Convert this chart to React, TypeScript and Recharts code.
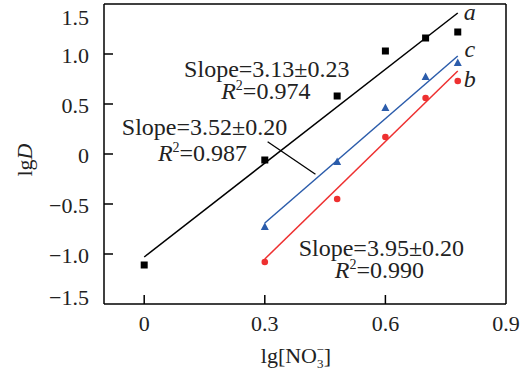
import { ComposedChart, Line, Scatter, XAxis, YAxis, ReferenceLine, ReferenceDot } from 'recharts'

const xTicks = [0, 0.3, 0.6, 0.9]
const yTicks = [-1.5, -1.0, -0.5, 0, 0.5, 1.0, 1.5]

// measured points
const lgNO3 = [0, 0.3, 0.48, 0.6, 0.7, 0.78]
const seriesA = [-1.11, -0.06, 0.58, 1.03, 1.16, 1.22]
const lgNO3bc = [0.3, 0.48, 0.6, 0.7, 0.78]
const seriesB = [-1.08, -0.45, 0.17, 0.56, 0.73]
const seriesC = [-0.73, -0.08, 0.46, 0.77, 0.91]

// fitted line ends
const fitA = [{ x: 0, y: -1.03 }, { x: 0.78, y: 1.41 }]
const fitB = [{ x: 0.3, y: -1.05 }, { x: 0.78, y: 0.83 }]
const fitC = [{ x: 0.3, y: -0.69 }, { x: 0.78, y: 0.98 }]

// annotations: [x, y, slope text, x, y, r2 text]
const slopeNotes: [number, number, string, number, number, string][] = [
  [0.305, 0.773, 'Slope=3.13\u00b10.23', 0.3025, 0.55, '=0.974'],
  [0.15, 0.19, 'Slope=3.52\u00b10.20', 0.145, -0.067, '=0.987'],
  [0.59, -1.02, 'Slope=3.95\u00b10.20', 0.585, -1.24, '=0.990'],
]
const curveNames: [number, number, string][] = [
  [0.81, 1.34, 'a'],
  [0.81, 0.67, 'b'],
  [0.81, 0.97, 'c'],
]
const leader = [{ x: 0.307, y: 0.123 }, { x: 0.426, y: -0.203 }]

const BLACK = '#000000'
const BLUE = '#2b5cab'
const RED = '#ee3030'
const FONT = '"Liberation Serif", "Times New Roman", serif'
const FS = 22
const NOTE_FS = 24

const ptsA = lgNO3.map((x, i) => ({ x, y: seriesA[i] }))
const ptsB = lgNO3bc.map((x, i) => ({ x, y: seriesB[i] }))
const ptsC = lgNO3bc.map((x, i) => ({ x, y: seriesC[i] }))

const fmt = (v: number) => {
  if (v === 0) return '0'
  const s = Math.abs(v).toFixed(1)
  return v < 0 ? '\u2212' + s : s
}

function YTick(props: any) {
  const { x, y, payload } = props
  const v = payload.value
  const inner = v !== 1.5 && v !== -1.5
  // end labels are pulled inside the frame
  const dy = v === 1.5 ? 16 : v === -1.5 ? 1 : 9
  return (
    <g>
      <text x={x} y={y + dy} textAnchor="end" fontFamily={FONT} fontSize={FS} fill="#222">{fmt(v)}</text>
      {inner && <line x1={x + 15} x2={x + 24} y1={y} y2={y} stroke={BLACK} strokeWidth={1.5} />}
    </g>
  )
}

function XTick(props: any) {
  const { x, y, payload } = props
  const v = payload.value
  const inner = v !== 0.9
  return (
    <g>
      <text x={x} y={y + 17} textAnchor="middle" fontFamily={FONT} fontSize={FS} fill="#222">{v === 0 ? '0' : String(v)}</text>
      {inner && <line x1={x} x2={x} y1={y - 10} y2={y - 19} stroke={BLACK} strokeWidth={1.5} />}
    </g>
  )
}

const square = (p: any) => <rect x={p.cx - 3.5} y={p.cy - 3.5} width={7} height={7} fill={BLACK} />
const circle = (p: any) => <circle cx={p.cx} cy={p.cy} r={3.3} fill={RED} />
const triangle = (p: any) => (
  <polygon points={`${p.cx},${p.cy - 4.5} ${p.cx - 4},${p.cy + 3} ${p.cx + 4},${p.cy + 3}`} fill={BLUE} />
)

export default function App() {
  return (
    <div style={{ position: 'absolute', left: 0, top: 0, background: '#fff' }}>
      <ComposedChart width={529} height={370} margin={{ top: 4, right: 23, left: 0, bottom: 0 }}>
        <XAxis
          type="number"
          dataKey="x"
          domain={[-0.1, 0.9]}
          ticks={xTicks}
          height={66}
          tickSize={0}
          tickMargin={10}
          tick={<XTick />}
          axisLine={{ stroke: BLACK, strokeWidth: 1.5 }}
          label={{
            content: (p: any) => {
              const vb = p.viewBox
              return (
                <text x={vb.x + vb.width / 2 - 9} y={363} textAnchor="middle" fontFamily={FONT} fontSize={FS} fill="#222">
                  lg[NO<tspan dy={5} fontSize={13}>3</tspan><tspan dx={-7} dy={-14} fontSize={13}>{'\u2212'}</tspan><tspan dy={9}>]</tspan>
                </text>
              )
            },
          }}
        />
        <YAxis
          type="number"
          dataKey="y"
          domain={[-1.5, 1.5]}
          ticks={yTicks}
          width={104}
          tickSize={0}
          tickMargin={15}
          tick={<YTick />}
          axisLine={{ stroke: BLACK, strokeWidth: 1.5 }}
          label={{
            content: () => (
              <text x={0} y={0} transform="translate(32,160) rotate(-90)" textAnchor="middle" fontFamily={FONT} fontSize={FS} fill="#222">
                lg<tspan fontStyle="italic">D</tspan>
              </text>
            ),
          }}
        />
        <ReferenceLine y={1.5} stroke={BLACK} strokeWidth={1.5} />
        <ReferenceLine x={0.9} stroke={BLACK} strokeWidth={1.5} />
        <ReferenceLine segment={leader} stroke={BLACK} strokeWidth={1.3} />

        <Line data={fitA} dataKey="y" stroke={BLACK} strokeWidth={1.5} dot={false} isAnimationActive={false} />
        <Line data={fitC} dataKey="y" stroke={BLUE} strokeWidth={1.5} dot={false} isAnimationActive={false} />
        <Line data={fitB} dataKey="y" stroke={RED} strokeWidth={1.5} dot={false} isAnimationActive={false} />
        <Scatter data={ptsA} dataKey="y" shape={square} isAnimationActive={false} />
        <Scatter data={ptsC} dataKey="y" shape={triangle} isAnimationActive={false} />
        <Scatter data={ptsB} dataKey="y" shape={circle} isAnimationActive={false} />

        {slopeNotes.map(([sx, sy, s]) => (
          <ReferenceDot
            key={s}
            x={sx}
            y={sy}
            r={0}
            shape={(p: any) => (
              <text x={p.cx} y={p.cy} textAnchor="middle" fontFamily={FONT} fontSize={NOTE_FS} fill="#222">{s}</text>
            )}
          />
        ))}
        {slopeNotes.map(([, , , rx, ry, r]) => (
          <ReferenceDot
            key={r}
            x={rx}
            y={ry}
            r={0}
            shape={(p: any) => (
              <text x={p.cx} y={p.cy} textAnchor="middle" fontFamily={FONT} fontSize={NOTE_FS} fill="#222">
                <tspan fontStyle="italic">R</tspan><tspan dy={-9} fontSize={14}>2</tspan><tspan dy={9}>{r}</tspan>
              </text>
            )}
          />
        ))}
        {curveNames.map(([cx, cy, n]) => (
          <ReferenceDot
            key={n}
            x={cx}
            y={cy}
            r={0}
            shape={(p: any) => (
              <text x={p.cx} y={p.cy} textAnchor="middle" fontFamily={FONT} fontSize={NOTE_FS} fontStyle="italic" fill="#222">{n}</text>
            )}
          />
        ))}
      </ComposedChart>
    </div>
  )
}
